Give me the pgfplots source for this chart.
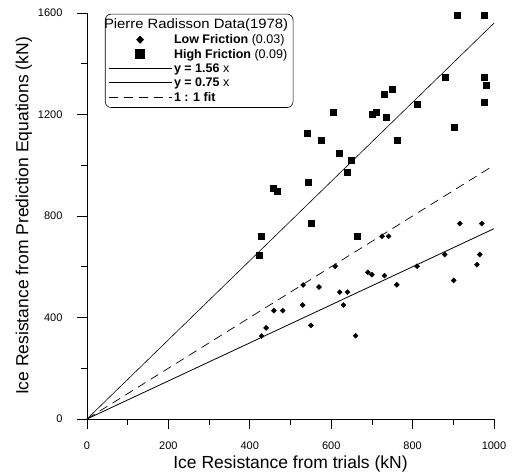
\documentclass[border=0pt]{standalone}
\usepackage{pgfplots}
\pgfplotsset{compat=1.18}
\usepackage{fontspec}
\setmainfont{Liberation Sans}
\newfontfamily\legtitle[FakeStretch=1.1]{Liberation Sans}
\newcommand\lf{\fontsize{12.5}{14}\selectfont\bfseries}
\pgfplotsset{
  lineleg/.style={legend image code/.code={\draw[##1, sharp corners] (0pt,0pt) -- (63pt,0pt);}},
  diamleg/.style={legend image code/.code={\path[draw=none] (0pt,0pt) -- (63pt,0pt);
      \fill[black, sharp corners] (28pt,0pt) -- (31.5pt,3.6pt) -- (35pt,0pt) -- (31.5pt,-3.6pt) -- cycle;}},
  sqleg/.style={legend image code/.code={\path[draw=none] (0pt,0pt) -- (63pt,0pt);
      \fill[black, sharp corners] (27pt,-4.5pt) rectangle (36pt,4.5pt);}},
}

\begin{document}
\begin{tikzpicture}
\begin{axis}[
    scale only axis,
    width=407pt, height=406pt,
    xmin=0, xmax=1000, ymin=0, ymax=1600,
    axis lines=left,
    axis line style={-, line width=0.9pt},
    tick align=outside,
    major tick length=10pt, minor tick length=6pt,
    xtick={0,200,...,1000}, ytick={0,400,...,1600},
    minor x tick num=1, minor y tick num=1,
    tick style={black, line width=0.7pt},
    ticklabel style={font=\fontsize{11}{13}\selectfont},
    xticklabel style={yshift=-9pt},
    yticklabel shift=11pt,
    /pgf/number format/assume math mode=true,
    /pgf/number format/1000 sep={},
    xlabel={Ice Resistance from trials (kN)},
    ylabel={Ice Resistance from Prediction Equations (kN)},
    label style={font=\fontsize{17.5}{19}\selectfont},
    xlabel style={yshift=0pt},
    ylabel style={yshift=-1pt},
    clip=false,
    legend cell align=left,
    legend style={at={(axis description cs:0.044,0.998)}, anchor=north west,
        draw=black, line width=0.6pt, rounded corners=6pt,
        row sep=0pt, inner sep=3pt},
    lineleg,
]
\addlegendimage{empty legend}
\addlegendentry{\hspace*{-70pt}\fontsize{13.5}{15}\legtitle Pierre Radisson Data(1978)}

% low friction
\addplot[only marks, mark=square*, mark options={rotate=45}, mark size=1.8pt, black, forget plot]
coordinates {
(916,770) (970,770) (879,648) (965,648) (958,608) (901,546) (811,602)
(725,720) (741,720) (690,578) (700,569) (731,565) (761,529) (610,602)
(531,528) (570,520) (621,500) (640,500) (530,449) (630,449) (459,427)
(481,427) (550,369) (440,359) (429,327) (660,328)
};
\addlegendimage{diamleg}
\addlegendentry{\lf Low Friction {\mdseries(0.03)}}

% high friction
\addplot[only marks, mark=square*, mark size=3pt, black, forget plot]
coordinates {
(910,1590) (975,1590) (880,1348) (975,1346) (982,1316) (975,1248) (812,1240)
(901,1148) (731,1279) (750,1298) (605,1209) (701,1203) (710,1209) (736,1190)
(540,1127) (576,1097) (761,1097) (619,1047) (649,1019) (639,972) (544,934)
(457,909) (468,898) (550,770) (429,719) (424,646) (664,721)
};
\addlegendimage{sqleg}
\addlegendentry{\lf High Friction {\mdseries(0.09)}}

\addplot[black, line width=0.6pt] coordinates {(0,0) (1000,1560)};
\addlegendentry{\lf y = 1.56 {\mdseries x}}
\addplot[black, line width=0.8pt] coordinates {(0,0) (1000,750)};
\addlegendentry{\lf y = 0.75 {\mdseries x}}
\addplot[black, line width=0.7pt, dash pattern=on 9pt off 6pt] coordinates {(0,0) (1000,1000)};
\addlegendentry{\lf 1 : 1 fit}

% page margins as in the reference
\path (rel axis cs:0,1) ++(-87pt,13pt);
\path (rel axis cs:1,0) ++(18pt,-54pt);
\end{axis}
\end{tikzpicture}
\end{document}
